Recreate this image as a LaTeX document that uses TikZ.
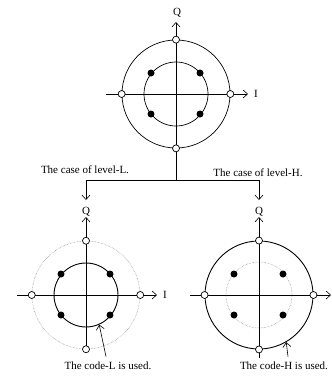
\documentclass[tikz,border=0pt]{standalone}
\usepackage{fontspec}
\setmainfont{Liberation Serif}
\usetikzlibrary{arrows.meta,positioning}

\begin{document}
\begin{tikzpicture}[x=1pt,y=-1pt,>={Straight Barb[length=4.5pt,width=8pt]},
 every node/.style={font=\fontsize{11}{12}\selectfont},
 ring/.style={circle,draw,inner sep=0pt,minimum size=#1},
 ax/.style={line width=.6pt},
 dot/.style={circle,fill,inner sep=0pt,minimum size=7pt},
 hole/.style={circle,draw,fill=white,inner sep=0pt,minimum size=7pt,line width=.7pt},
 faint/.style={gray,densely dotted,line width=.5pt},
 bold/.style={line width=.9pt}]
\useasboundingbox (0,0) rectangle (332,378);
% dots on the inner ring and holes on the outer ring
\newcommand{\IQmarks}[1]{
 \foreach \n/\dx/\dy in {1/-25/-21,2/24/-21,3/-25/20,4/24/20}
  \node[dot] (#1-d\n) at ([shift={(\dx,\dy)}]#1-c) {};
 \foreach \a in {north,south,east,west}
  \node[hole] (#1-h\a) at (#1-out.\a) {};}
% top plane
\coordinate (T-c) at (176,94);
\node[ring=108pt,line width=.7pt] (T-out) at (T-c) {};
\node[ring=64pt,line width=.7pt] (T-in) at (T-c) {};
\coordinate (T-w) at (106,94); \coordinate (T-e) at (248,94);
\coordinate (T-n) at (176,22); \coordinate (split) at (176,180);
\draw[->,ax] (T-w)--(T-e); \draw[->,ax] (split)--(T-n);
\IQmarks{T}
\node (T-Q) at (177,13) {Q}; \node (T-I) at (256,94) {I};
% branches
\node (caseL) at (85,170) {The case of level-L.};
\node (caseH) at (258,173) {The case of level-H.};
\coordinate (L-arr) at (86,200); \coordinate (H-arr) at (259,200);
\draw[->,ax] (split)-|(L-arr); \draw[->,ax] (split)-|(H-arr);
% level-L plane
\coordinate (L-c) at (86,295);
\node[ring=108pt,faint] (L-out) at (L-c) {};
\node[ring=64pt,bold] (L-in) at (L-c) {};
\coordinate (L-w) at (17,295); \coordinate (L-e) at (157,295);
\coordinate (L-n) at (86,217); \coordinate (L-s) at (86,347);
\draw[->,ax] (L-w)--(L-e); \draw[->,ax] (L-s)--(L-n);
\IQmarks{L}
\node (L-Q) at (86,212) {Q}; \node (L-I) at (165,295) {I};
\node (codeL) at (108,366) {The code-L is used.};
\draw[->,ax] ([xshift=-2pt,yshift=2pt]codeL.north)--(L-in.-66);
% level-H plane
\coordinate (H-c) at (259,295);
\node[ring=108pt,bold] (H-out) at (H-c) {};
\node[ring=66pt,faint] (H-in) at (H-c) {};
\coordinate (H-w) at (190,295); \coordinate (H-e) at (331,295);
\coordinate (H-n) at (259,217); \coordinate (H-s) at (259,358);
\draw[->,ax] (H-w)--(H-e); \draw[->,ax] (H-s)--(H-n);
\IQmarks{H}
\node (H-Q) at (259,212) {Q};
\node (codeH) at (284,366) {The code-H is used.};
\draw[->,ax] ([xshift=4pt,yshift=2pt]codeH.north)--(H-out.-60);
\end{tikzpicture}
\end{document}
